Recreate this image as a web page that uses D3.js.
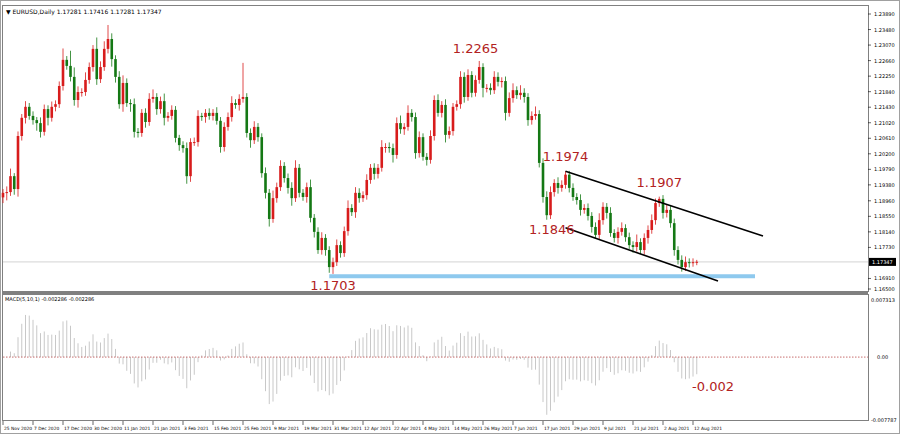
<!DOCTYPE html>
<html><head><meta charset="utf-8">
<script src="https://cdn.jsdelivr.net/npm/d3@7"></script>
<style>body{margin:0;background:#fff}svg{display:block}text{font-family:"DejaVu Sans",sans-serif}</style>
</head><body><svg id="c" width="900" height="434"></svg>
<script>
const closes=[1.1917,1.1919,1.1961,1.1927,1.2067,1.2115,1.2144,1.2120,1.2109,1.2101,
1.2078,1.2138,1.2115,1.2144,1.2151,1.2199,1.2268,1.2252,1.2223,1.2162,
1.2183,1.2183,1.2215,1.2249,1.2297,1.2217,1.2249,1.2297,1.2323,1.2270,
1.2223,1.2151,1.2207,1.2154,1.2151,1.2078,1.2075,1.2128,1.2104,1.2165,
1.2170,1.2138,1.2159,1.2115,1.2120,1.2136,1.2062,1.2043,1.2035,1.1961,
1.2051,1.2051,1.2120,1.2117,1.2128,1.2120,1.2128,1.2107,1.2038,1.2091,
1.2117,1.2154,1.2149,1.2165,1.2170,1.2075,1.2056,1.2091,1.2064,1.1969,
1.1917,1.1848,1.1903,1.1932,1.1988,1.1956,1.1930,1.1903,1.1983,1.1917,
1.1906,1.1932,1.1851,1.1814,1.1766,1.1798,1.1766,1.1721,1.1734,1.1779,
1.1758,1.1816,1.1877,1.1866,1.1917,1.1903,1.1911,1.1951,1.1983,1.1967,
1.1983,1.2038,1.2038,1.2035,1.2017,1.2101,1.2085,1.2091,1.2128,1.2117,
1.2022,1.2064,1.2012,1.2004,1.2067,1.2162,1.2128,1.2149,1.2070,1.2080,
1.2144,1.2151,1.2223,1.2170,1.2228,1.2181,1.2215,1.2249,1.2194,1.2194,
1.2188,1.2223,1.2210,1.2212,1.2128,1.2167,1.2188,1.2175,1.2181,1.2170,
1.2109,1.2120,1.2125,1.1996,1.1906,1.1858,1.1919,1.1943,1.1930,1.1938,
1.1965,1.1930,1.1906,1.1898,1.1872,1.1877,1.1856,1.1827,1.1806,1.1845,
1.1880,1.1864,1.1811,1.1798,1.1814,1.1824,1.1800,1.1779,1.1774,1.1787,
1.1766,1.1798,1.1819,1.1845,1.1890,1.1901,1.1864,1.1872,1.1837,1.1766,
1.1740,1.1721,1.1734,1.1732,1.1734,1.1735];
const wickUpPips=[10,15,20,8,12,10,15,10,12,8,15,12,10,14,10,12,30,10,40,25,
15,10,20,12,10,30,15,20,37,15,10,15,20,12,10,15,10,10,12,15,
20,10,12,20,10,12,10,8,10,15,10,12,15,8,10,12,10,15,10,12,
12,18,10,12,90,10,12,15,10,10,15,10,20,12,15,10,12,15,20,10,
10,12,20,10,12,15,10,10,12,15,10,12,20,10,15,12,10,15,10,12,
10,18,10,12,12,15,20,10,20,10,12,15,10,10,15,12,15,10,15,12,
10,10,15,12,15,10,12,16,10,10,12,15,12,10,12,15,18,10,20,12,
10,12,20,10,12,15,15,10,15,12,9,10,12,10,15,10,12,10,12,18,
12,10,15,10,12,15,10,12,10,20,10,12,12,15,12,6,10,15,10,12,
10,12,15,10,10,5];
const wickDownPips=[15,20,10,15,20,12,15,10,12,20,15,10,20,10,12,10,12,10,12,15,
20,12,10,10,12,15,10,10,12,20,15,12,20,10,20,15,12,10,15,10,
10,15,12,20,10,10,12,15,12,20,15,10,12,10,15,10,12,10,15,12,
10,12,10,15,10,12,20,10,12,12,15,20,10,12,10,12,15,20,10,12,
10,15,12,15,10,12,15,15,18,10,12,10,12,10,15,12,10,12,10,15,
12,10,15,12,20,10,12,15,10,12,15,12,10,15,10,12,10,12,20,10,
12,10,12,15,10,12,10,10,25,12,12,10,12,15,20,10,12,10,12,15,
15,12,10,12,15,12,10,12,15,10,10,12,10,12,15,10,12,15,10,12,
12,15,10,12,15,10,12,10,15,12,10,12,15,10,12,10,15,12,12,15,
12,12,10,12,10,8];
const firstOpen=1.1905;
const priceTicks=["1.23890","1.23480","1.23070","1.22660","1.22250","1.21840","1.21430","1.21020","1.20610","1.20200","1.19790","1.19380","1.18960","1.18550","1.18140","1.17730","1.16910","1.16500"];
const dateLabels=["25 Nov 2020","7 Dec 2020","17 Dec 2020","30 Dec 2020","11 Jan 2021","21 Jan 2021","3 Feb 2021","15 Feb 2021","25 Feb 2021","9 Mar 2021","19 Mar 2021","31 Mar 2021","12 Apr 2021","22 Apr 2021","4 May 2021","14 May 2021","26 May 2021","7 Jun 2021","17 Jun 2021","29 Jun 2021","9 Jul 2021","21 Jul 2021","2 Aug 2021","12 Aug 2021"];
const macdTicks=[0.007313,0,-0.007787];
const annotations=[{t:"1.2265",p:1.2265,i:126,dy:-8},{t:"1.1974",i:150,p:1.1974,dy:-10},{t:"1.1907",i:175,p:1.1907,dy:-10},{t:"1.1846",i:145,p:1.1846,dy:14,anchor:"end"},{t:"1.1703",i:88,p:1.1703,dy:16}];

const svg=d3.select("#c");
const x=d3.scaleLinear().domain([0,186]).range([3,700.5]);
const y=d3.scaleLinear().domain([1.165,1.2389]).range([294,14]);
const ym=d3.scaleLinear().domain([-0.007787,0.007313]).range([420,298]).clamp(true);
const bars=closes.map((c,i)=>{const o=i?closes[i-1]:firstOpen;return{i,o,c,h:Math.max(o,c)+wickUpPips[i]/10000,l:Math.min(o,c)-wickDownPips[i]/10000};});

svg.append("rect").attr("x",0.5).attr("y",0.5).attr("width",899).attr("height",433).attr("fill","none").attr("stroke","#a0a0a0");
svg.append("rect").attr("x",2.5).attr("y",5.5).attr("width",866).attr("height",286).attr("fill","none").attr("stroke","#808080");
svg.append("rect").attr("x",2.5).attr("y",294.5).attr("width",866).attr("height",126).attr("fill","none").attr("stroke","#808080");
svg.append("line").attr("x1",2).attr("x2",868).attr("y1",293).attr("y2",293).attr("stroke","#808080").attr("stroke-width",2);

svg.append("text").attr("x",6).attr("y",14).attr("font-size",6).attr("fill","#000").text("▼ EURUSD,Daily  1.17281 1.17416 1.17281 1.17347");

priceTicks.forEach(t=>{const yy=Math.min(y(+t),289);
 svg.append("line").attr("x1",868).attr("x2",871).attr("y1",yy).attr("y2",yy).attr("stroke","#000").attr("stroke-width",0.6);
 svg.append("text").attr("x",874).attr("y",yy+2).attr("font-size",5).attr("fill","#000").text(t);});
const cp=1.17347;
svg.append("line").attr("x1",3).attr("x2",868).attr("y1",y(cp)).attr("y2",y(cp)).attr("stroke","#c8c8c8").attr("stroke-width",0.8);
svg.append("rect").attr("x",869).attr("y",y(cp)-4).attr("width",27).attr("height",8).attr("fill","#000");
svg.append("text").attr("x",872).attr("y",y(cp)+2).attr("font-size",5).attr("fill","#fff").text("1.17347");

svg.append("line").attr("x1",x(87)).attr("x2",755).attr("y1",y(1.1697)).attr("y2",y(1.1697)).attr("stroke","#8ec9ee").attr("stroke-width",4);

const g=svg.append("g");
bars.forEach(b=>{const col=b.c>=b.o?"#d81c1c":"#147814";const cx=x(b.i);
 g.append("line").attr("x1",cx).attr("x2",cx).attr("y1",y(b.h)).attr("y2",y(b.l)).attr("stroke",col).attr("stroke-width",0.8);
 const t=y(Math.max(b.o,b.c)),bt=y(Math.min(b.o,b.c));
 g.append("rect").attr("x",cx-1.3).attr("y",t).attr("width",2.6).attr("height",Math.max(1,bt-t)).attr("fill",col);});

svg.append("line").attr("x1",x(150)).attr("y1",y(1.1974)).attr("x2",763).attr("y2",236).attr("stroke","#000").attr("stroke-width",1.6);
svg.append("line").attr("x1",x(150)).attr("y1",y(1.1846)+8).attr("x2",718).attr("y2",281).attr("stroke","#000").attr("stroke-width",1.6);

annotations.forEach(a=>{svg.append("text").attr("x",a.anchor==="end"?x(a.i)+5:x(a.i)).attr("y",y(a.p)+a.dy).attr("text-anchor","middle").attr("font-family","Arial, Liberation Sans").attr("font-size",13).attr("fill","#b22222").text(a.t);});

function ema(arr,n){const k=2/(n+1);let e=arr[0];return arr.map(v=>e=v*k+e*(1-k));}
const e5=ema(closes,5),e10=ema(closes,10);
const macd=closes.map((_,i)=>(e5[i]-e10[i]));
macd.forEach((m,i)=>{svg.append("line").attr("x1",x(i)).attr("x2",x(i)).attr("y1",ym(0)).attr("y2",ym(m)).attr("stroke","#c8c8c8").attr("stroke-width",1);});
svg.append("line").attr("x1",3).attr("x2",868).attr("y1",ym(0)).attr("y2",ym(0)).attr("stroke","#b03030").attr("stroke-width",0.7).attr("stroke-dasharray","1.5,1.5");
svg.append("text").attr("x",5).attr("y",301).attr("font-size",5).attr("fill","#000").text("MACD(5,10,1) -0.002286 -0.002286");
svg.append("text").attr("x",713).attr("y",391).attr("text-anchor","middle").attr("font-family","Arial, Liberation Sans").attr("font-size",13).attr("fill","#b22222").text("-0.002");
macdTicks.forEach((t,k)=>{svg.append("text").attr("x",t===0?877:871).attr("y",k===0?302:ym(t)+2).attr("font-size",5).attr("fill","#000").text(t===0?"0.00":t.toFixed(6));});

dateLabels.forEach((d,k)=>{const xx=x(k*8);
 svg.append("line").attr("x1",xx).attr("x2",xx).attr("y1",421).attr("y2",425).attr("stroke","#000").attr("stroke-width",0.6);
 svg.append("text").attr("x",xx+1).attr("y",430).attr("font-size",4.4).attr("fill","#000").text(d);});
</script></body></html>
